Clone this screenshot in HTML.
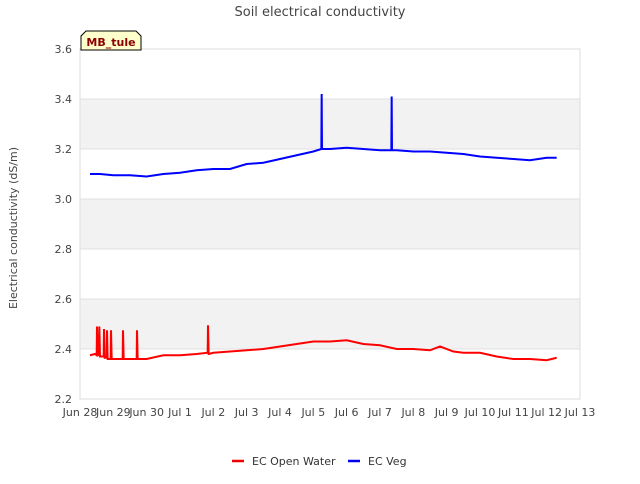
<!DOCTYPE html>
<html><head><meta charset="utf-8"><style>
body{margin:0;background:#fff;font-family:"DejaVu Sans","Liberation Sans",sans-serif;}
svg text{font-family:"DejaVu Sans","Liberation Sans",sans-serif;}
</style></head><body>
<svg id="c" width="640" height="480" xmlns="http://www.w3.org/2000/svg">
<text x="320" y="16" text-anchor="middle" font-size="13" fill="#444">Soil electrical conductivity</text>
<g id="bands"></g>
<g id="grid"></g>
<rect x="80" y="49" width="500" height="350" fill="none" stroke="#ddd"/>
<g id="yt"></g><g id="xt"></g>
<text transform="translate(17,228) rotate(-90)" text-anchor="middle" font-size="11" fill="#444">Electrical conductivity (dS/m)</text>
<g id="series"></g>
<g>
<path d="M81,50 L81,36 L86,31 L136,31 L141,36 L141,50 Z" fill="#ffffcc" stroke="#000"/>
<text x="111" y="46" text-anchor="middle" font-size="11" font-weight="bold" fill="#8b0000">MB_tule</text>
</g>
<g><line x1="232" y1="461" x2="244" y2="461" stroke="#e00" stroke-width="2.5"/><text x="252" y="465" font-size="11" fill="#333">EC Open Water</text></g>
<g><line x1="348" y1="461" x2="360" y2="461" stroke="#00e" stroke-width="2.5"/><text x="368" y="465" font-size="11" fill="#333">EC Veg</text></g>
</svg>
<script>
const xLabels=["Jun 28","Jun 29","Jun 30","Jul 1","Jul 2","Jul 3","Jul 4","Jul 5","Jul 6","Jul 7","Jul 8","Jul 9","Jul 10","Jul 11","Jul 12","Jul 13"];
const yTicks=[2.2,2.4,2.6,2.8,3.0,3.2,3.4,3.6];
const vegDays=[0.3,0.6,1.0,1.5,2.0,2.5,3.0,3.5,4.0,4.5,5.0,5.5,6.0,6.5,7.0,7.24,7.25,7.26,7.5,8.0,8.5,9.0,9.34,9.35,9.36,9.5,10.0,10.5,11.0,11.5,12.0,12.5,13.0,13.5,14.0,14.3];
const vegVals=[3.10,3.10,3.095,3.095,3.09,3.10,3.105,3.115,3.12,3.12,3.14,3.145,3.16,3.175,3.19,3.20,3.42,3.20,3.20,3.205,3.20,3.195,3.195,3.41,3.195,3.195,3.19,3.19,3.185,3.18,3.17,3.165,3.16,3.155,3.165,3.165];
const owDays=[0.3,0.45,0.50,0.51,0.53,0.57,0.58,0.60,0.71,0.72,0.74,0.80,0.81,0.83,0.92,0.93,0.95,1.28,1.29,1.31,1.70,1.71,1.73,2.0,2.5,3.0,3.5,3.83,3.84,3.86,4.0,4.5,5.0,5.5,6.0,6.5,7.0,7.5,8.0,8.5,9.0,9.5,10.0,10.5,10.8,11.2,11.5,12.0,12.5,13.0,13.5,14.0,14.3];
const owVals=[2.375,2.38,2.375,2.49,2.38,2.375,2.49,2.37,2.37,2.48,2.365,2.365,2.475,2.36,2.36,2.475,2.36,2.36,2.475,2.36,2.36,2.475,2.36,2.36,2.375,2.375,2.38,2.385,2.495,2.38,2.385,2.39,2.395,2.40,2.41,2.42,2.43,2.43,2.435,2.42,2.415,2.40,2.40,2.395,2.41,2.39,2.385,2.385,2.37,2.36,2.36,2.355,2.365];
const NS="http://www.w3.org/2000/svg";
const X=d=>80+d*500/15, Y=v=>399-(v-2.2)*250;
function mk(t,p,a){const e=document.createElementNS(NS,t);for(const k in a)e.setAttribute(k,a[k]);p.appendChild(e);return e;}
const bands=document.getElementById('bands'),grid=document.getElementById('grid'),yt=document.getElementById('yt'),xt=document.getElementById('xt'),ser=document.getElementById('series');
for(let i=0;i<yTicks.length-1;i++){if(i%2==1){const r=mk('rect',bands,{x:80,y:Y(yTicks[i+1]),width:500,height:Y(yTicks[i])-Y(yTicks[i+1]),fill:'#f2f2f2'});

}}
yTicks.forEach(v=>{const l=mk('line',grid,{x1:80,x2:580,y1:Y(v),y2:Y(v),stroke:'#e0e0e0'});


const t=mk('text',yt,{x:72,y:Y(v)+4,'text-anchor':'end','font-size':11,fill:'#444'});t.textContent=v.toFixed(1);

});
xLabels.forEach((s,i)=>{const t=mk('text',xt,{x:X(i),y:416,'text-anchor':'middle','font-size':11,fill:'#444'});t.textContent=s;

});
function line(ds,vs,col,name){const p=mk('polyline',ser,{points:ds.map((d,i)=>X(d)+','+Y(vs[i])).join(' '),fill:'none',stroke:col,'stroke-width':2});

}
line(owDays,owVals,'#f00','ec-open-water-line');
line(vegDays,vegVals,'#00f','ec-veg-line');
</script>
</body></html>
